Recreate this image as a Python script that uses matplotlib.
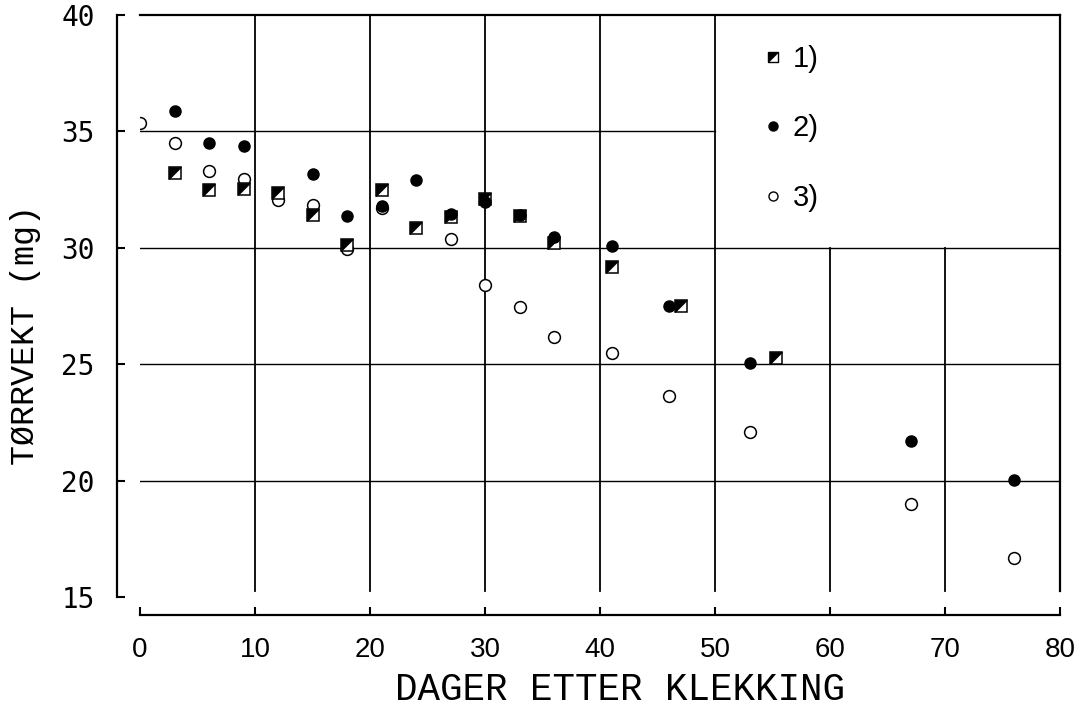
import matplotlib
matplotlib.use("Agg")
import matplotlib.pyplot as plt
from matplotlib.path import Path
from matplotlib.lines import Line2D
from matplotlib.legend_handler import HandlerTuple

# ---------------- data ----------------
days_1 = [3, 6, 9, 12, 15, 18, 21, 24, 27, 30, 33, 36, 41, 47, 55.3]
dw_1 = [33.2, 32.47, 32.52, 32.37, 31.41, 30.12, 32.49, 30.86, 31.34, 32.1, 31.38, 30.2, 29.18, 27.5, 25.26]

days_2 = [3, 6, 9, 15, 18, 21, 24, 27, 30, 33, 36, 41, 46, 53, 67, 76]
dw_2 = [35.85, 34.5, 34.35, 33.15, 31.37, 31.8, 32.9, 31.43, 31.98, 31.4, 30.47, 30.09, 27.5, 25.05, 21.71, 20.05]

days_3 = [0, 3, 6, 9, 12, 15, 18, 21, 27, 30, 33, 36, 41, 46, 53, 67, 76]
dw_3 = [35.34, 34.48, 33.31, 32.97, 32.04, 31.83, 29.93, 31.7, 30.39, 28.42, 27.46, 26.16, 25.47, 23.63, 22.08, 19.0, 16.7]

x_ticks = [0, 10, 20, 30, 40, 50, 60, 70, 80]
y_ticks = [15, 20, 25, 30, 35, 40]
legend_labels = ["1)", "2)", "3)"]
x_label = "DAGER ETTER KLEKKING"
y_label = "TØRRVEKT (mg)"

# ---------------- figure ----------------
W, H = 1080, 709
fig = plt.figure(figsize=(W / 100, H / 100), dpi=100)
ax_top_px, ax_bot_px = 14.7, 615
ax_left_px, ax_right_px = 140, 1060
ax = fig.add_axes([ax_left_px / W, 1 - ax_bot_px / H,
                   (ax_right_px - ax_left_px) / W, (ax_bot_px - ax_top_px) / H])
ax.set_xlim(x_ticks[0], x_ticks[-1])
ax.set_ylim(14.24, y_ticks[-1])

LW = 1.3
grid_bottom = 15.25
legend_x0, legend_y0 = 50, 30  # corner of the grid-free legend area

# grid lines (partial, leaving the legend field empty)
for xv in x_ticks[1:-1]:
    top = y_ticks[-1] if xv <= legend_x0 else legend_y0
    ax.plot([xv, xv], [grid_bottom, top], color="black", lw=LW, zorder=1)
for yv in y_ticks[1:-1]:
    right = legend_x0 if yv > legend_y0 else x_ticks[-1]
    ax.plot([x_ticks[0], right], [yv, yv], color="black", lw=1.0, zorder=1)

# spines
ax.spines["left"].set_position(("outward", 23 * 0.72))
ax.spines["left"].set_bounds(y_ticks[0], y_ticks[-1])
ax.spines["right"].set_bounds(grid_bottom, y_ticks[-1])
ax.spines["bottom"].set_bounds(x_ticks[0], x_ticks[-1])
for s in ax.spines.values():
    s.set_linewidth(1.6)

ax.set_xticks(x_ticks)
ax.set_yticks(y_ticks)
ax.xaxis.set_ticks_position("bottom")
ax.yaxis.set_ticks_position("left")
ax.tick_params(axis="both", direction="in", length=6, width=1.5)
ax.tick_params(axis="x", pad=16)
ax.tick_params(axis="y", pad=16)
for lab in ax.get_xticklabels():
    lab.set_fontfamily(["Liberation Sans", "DejaVu Sans"])
    lab.set_fontsize(20)
for lab in ax.get_yticklabels():
    lab.set_fontfamily(["DejaVu Sans Mono", "DejaVu Sans"])
    lab.set_fontsize(20)

ax.set_xlabel(x_label, fontfamily=["Liberation Mono", "DejaVu Sans Mono"], fontsize=27)
ax.set_ylabel(y_label, fontfamily=["Liberation Mono", "DejaVu Sans Mono"], fontsize=24)
ax.xaxis.set_label_coords((620 - ax_left_px) / (ax_right_px - ax_left_px),
                          (ax_bot_px - 690) / (ax_bot_px - ax_top_px))
ax.yaxis.set_label_coords((26 - ax_left_px) / (ax_right_px - ax_left_px),
                          (ax_bot_px - 335) / (ax_bot_px - ax_top_px))
ax.xaxis.label.set_va("center")
ax.yaxis.label.set_va("center")

# half-filled square marker: upper-left triangle black
tri = Path([(-1, -1), (-1, 1), (1, 1), (-1, -1)],
           [Path.MOVETO, Path.LINETO, Path.LINETO, Path.CLOSEPOLY])

MS = 8
ax.plot(days_3, dw_3, ls="none", marker="o", ms=8.5, mfc="white", mec="black", mew=1.1, zorder=3)
ax.plot(days_1, dw_1, ls="none", marker="s", ms=MS, mfc="white", mec="black", mew=1.1, zorder=4)
ax.plot(days_1, dw_1, ls="none", marker=tri, ms=MS, mfc="black", mec="black", mew=0.5, zorder=4)
ax.plot(days_2, dw_2, ls="none", marker="o", ms=MS, mfc="black", mec="black", mew=1.0, zorder=5)

# legend
h1 = (Line2D([], [], ls="none", marker="s", ms=7, mfc="white", mec="black", mew=1.0),
      Line2D([], [], ls="none", marker=tri, ms=7, mfc="black", mec="black", mew=0.5))
h2 = Line2D([], [], ls="none", marker="o", ms=6.5, mfc="black", mec="black")
h3 = Line2D([], [], ls="none", marker="o", ms=6.5, mfc="white", mec="black", mew=1.0)
ax.legend(handles=[h1, h2, h3], labels=legend_labels,
          handler_map={tuple: HandlerTuple(ndivide=1, pad=0)},
          loc="upper left",
          bbox_to_anchor=((765 - ax_left_px) / (ax_right_px - ax_left_px),
                          (ax_bot_px - 45) / (ax_bot_px - ax_top_px)),
          frameon=False, borderpad=0, borderaxespad=0,
          handlelength=0.55, handletextpad=0.4, labelspacing=1.42,
          prop={"family": ["Liberation Sans", "DejaVu Sans"], "size": 21})

fig.savefig("out.png", dpi=100)
